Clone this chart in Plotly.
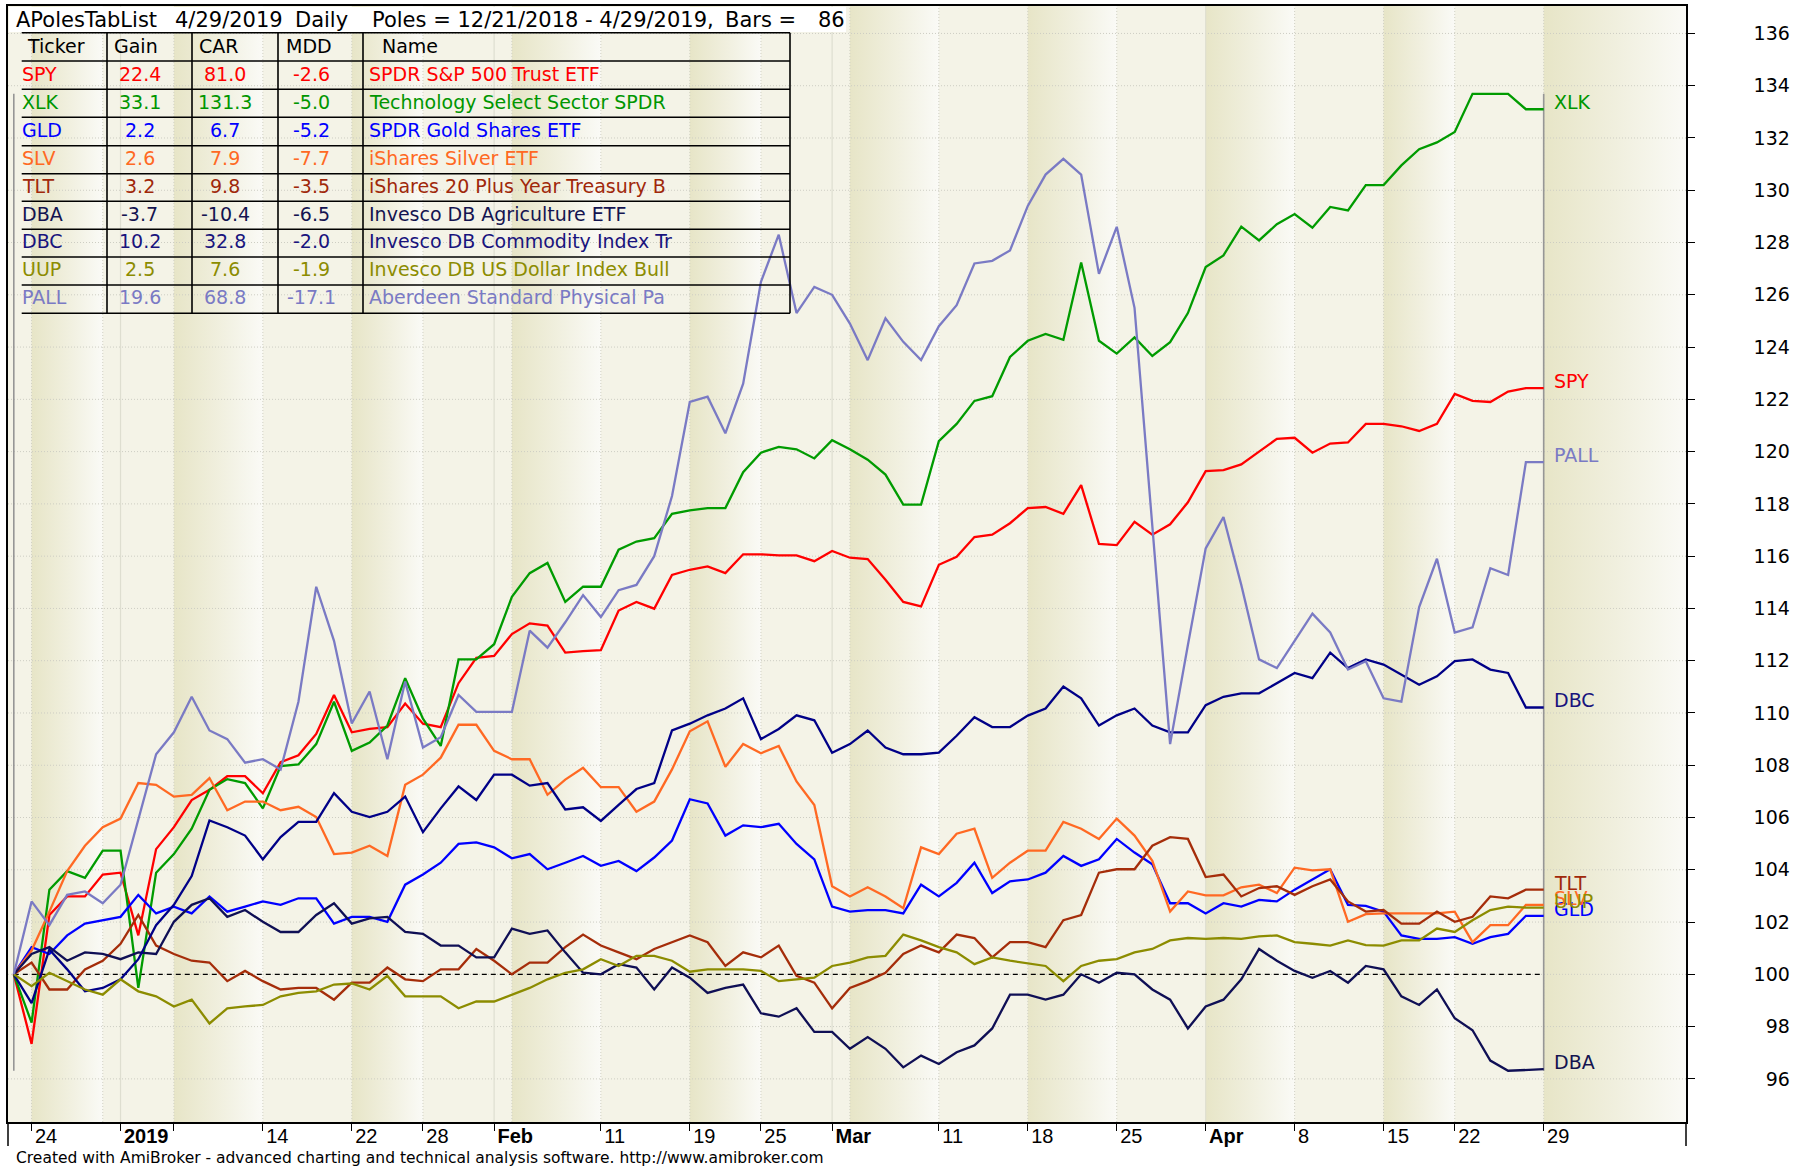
import datetime as dt
import plotly.graph_objects as go

# ---------------- data ----------------
dec_days = [21, 24, 26, 27, 28, 31]
jan_days = [2, 3, 4, 7, 8, 9, 10, 11, 14, 15, 16, 17, 18, 22, 23, 24, 25, 28, 29, 30, 31]
feb_days = [1, 4, 5, 6, 7, 8, 11, 12, 13, 14, 15, 19, 20, 21, 22, 25, 26, 27, 28]
mar_days = [1, 4, 5, 6, 7, 8, 11, 12, 13, 14, 15, 18, 19, 20, 21, 22, 25, 26, 27, 28, 29]
apr_days = [1, 2, 3, 4, 5, 8, 9, 10, 11, 12, 15, 16, 17, 18, 22, 23, 24, 25, 26, 29]
dates = ([dt.date(2018, 12, d) for d in dec_days] + [dt.date(2019, 1, d) for d in jan_days]
         + [dt.date(2019, 2, d) for d in feb_days] + [dt.date(2019, 3, d) for d in mar_days]
         + [dt.date(2019, 4, d) for d in apr_days])

tickers = ["SPY", "XLK", "GLD", "SLV", "TLT", "DBA", "DBC", "UUP", "PALL"]
gain = ["22.4", "33.1", "2.2", "2.6", "3.2", "-3.7", "10.2", "2.5", "19.6"]
car = ["81.0", "131.3", "6.7", "7.9", "9.8", "-10.4", "32.8", "7.6", "68.8"]
mdd = ["-2.6", "-5.0", "-5.2", "-7.7", "-3.5", "-6.5", "-2.0", "-1.9", "-17.1"]
names = ["SPDR S&P 500 Trust ETF", "Technology Select Sector SPDR", "SPDR Gold Shares ETF",
         "iShares Silver ETF", "iShares 20 Plus Year Treasury B", "Invesco DB Agriculture ETF",
         "Invesco DB Commodity Index Tr", "Invesco DB US Dollar Index Bull",
         "Aberdeen Standard Physical Pa"]

spy = [100, 97.34, 102.27, 102.98, 102.98, 103.82, 103.89, 101.49, 104.79, 105.63,
       106.67, 107.06, 107.58, 107.58, 106.93, 108.12, 108.38, 109.20, 110.69, 109.26,
       109.39, 109.46, 110.36, 109.59, 109.46, 111.14, 112.11, 112.18, 113.02, 113.43,
       113.34, 112.31, 112.37, 112.40, 113.92, 114.25, 113.99, 115.28, 115.48, 115.61,
       115.35, 116.07, 116.07, 116.03, 116.03, 115.81, 116.20, 115.94, 115.89, 115.10,
       114.25, 114.08, 115.67, 115.98, 116.73, 116.82, 117.26, 117.84, 117.88, 117.62,
       118.72, 116.47, 116.42, 117.31, 116.82, 117.22, 118.06, 119.25, 119.29, 119.51,
       120.00, 120.49, 120.53, 119.96, 120.31, 120.35, 121.06, 121.06, 120.97, 120.79,
       121.06, 122.21, 121.94, 121.90, 122.30, 122.43, 122.43]
xlk = [100, 98.15, 103.24, 103.95, 103.69, 104.73, 104.73, 99.48, 103.89, 104.60,
       105.57, 107.06, 107.47, 107.32, 106.35, 107.97, 108.03, 108.81, 110.43, 108.55,
       108.87, 109.52, 111.33, 109.78, 108.74, 112.05, 112.05, 112.63, 114.44, 115.35,
       115.74, 114.25, 114.83, 114.83, 116.25, 116.56, 116.69, 117.62, 117.75, 117.84,
       117.84, 119.21, 119.96, 120.18, 120.09, 119.74, 120.44, 120.09, 119.69, 119.12,
       117.97, 117.97, 120.40, 121.06, 121.94, 122.12, 123.62, 124.24, 124.50, 124.28,
       127.24, 124.24, 123.75, 124.37, 123.66, 124.19, 125.30, 127.06, 127.51, 128.61,
       128.08, 128.70, 129.09, 128.57, 129.36, 129.23, 130.20, 130.20, 130.95, 131.57,
       131.83, 132.23, 133.69, 133.69, 133.69, 133.10, 133.10]
gld = [100, 101.04, 100.78, 101.49, 101.94, 102.07, 102.20, 103.04, 102.33, 102.59,
       102.33, 102.98, 102.40, 102.59, 102.79, 102.66, 102.91, 102.91, 101.94, 102.20,
       102.20, 102.01, 103.43, 103.82, 104.27, 104.99, 105.05, 104.86, 104.44, 104.60,
       104.02, 104.27, 104.53, 104.15, 104.34, 103.95, 104.47, 105.12, 106.70, 106.54,
       105.31, 105.70, 105.63, 105.76, 104.99, 104.40, 102.59, 102.40, 102.46, 102.46,
       102.33, 103.43, 102.98, 103.50, 104.27, 103.11, 103.56, 103.63, 103.89, 104.53,
       104.15, 104.40, 105.18, 104.66, 104.21, 102.72, 102.72, 102.33, 102.72, 102.59,
       102.85, 102.79, 103.24, 103.63, 104.02, 102.66, 102.62, 102.40, 101.49, 101.36,
       101.36, 101.42, 101.17, 101.42, 101.55, 102.24, 102.24]
slv = [100, 100.91, 102.40, 103.95, 104.92, 105.63, 105.96, 107.32, 107.25, 106.80,
       106.87, 107.51, 106.28, 106.61, 106.61, 106.28, 106.41, 106.02, 104.60, 104.66,
       104.92, 104.53, 107.25, 107.64, 108.29, 109.55, 109.55, 108.55, 108.23, 108.23,
       106.87, 107.45, 107.90, 107.16, 107.16, 106.22, 106.61, 107.84, 109.30, 109.68,
       107.94, 108.81, 108.46, 108.74, 107.38, 106.48, 103.37, 102.98, 103.33, 102.98,
       102.53, 104.86, 104.60, 105.38, 105.57, 103.69, 104.27, 104.73, 104.73, 105.83,
       105.57, 105.18, 105.96, 105.31, 104.34, 102.40, 103.17, 103.02, 103.02, 103.33,
       103.43, 103.11, 104.08, 103.98, 104.02, 102.01, 102.30, 102.33, 102.33, 102.33,
       102.33, 102.40, 101.23, 101.88, 101.88, 102.66, 102.66]
tlt = [100, 100.45, 99.42, 99.42, 100.19, 100.52, 101.17, 102.27, 101.10, 100.78,
       100.52, 100.45, 99.74, 100.13, 99.74, 99.42, 99.48, 99.48, 99.03, 99.68,
       99.68, 100.26, 99.81, 99.74, 100.19, 100.19, 100.97, 100.52, 100.00, 100.45,
       100.45, 101.04, 101.52, 101.10, 100.84, 100.58, 100.97, 101.23, 101.49, 101.23,
       100.32, 100.84, 100.65, 101.10, 99.94, 99.68, 98.70, 99.48, 99.74, 100.06,
       100.78, 101.10, 100.84, 101.52, 101.39, 100.65, 101.23, 101.23, 101.04, 102.07,
       102.27, 103.89, 104.02, 104.02, 104.92, 105.25, 105.18, 103.72, 103.82, 102.98,
       103.30, 103.37, 103.04, 103.37, 103.63, 102.79, 102.40, 102.46, 101.94, 101.94,
       102.40, 102.01, 102.20, 102.98, 102.91, 103.24, 103.24]
dba = [100, 100.78, 101.04, 100.52, 100.84, 100.78, 100.58, 100.84, 100.78, 102.01,
       102.66, 102.91, 102.20, 102.46, 102.01, 101.62, 101.62, 102.27, 102.72, 101.94,
       102.14, 102.20, 101.62, 101.55, 101.10, 101.10, 100.65, 100.65, 101.75, 101.55,
       101.68, 100.84, 100.06, 100.00, 100.39, 100.26, 99.42, 100.26, 99.87, 99.29,
       99.48, 99.61, 98.51, 98.38, 98.70, 97.80, 97.80, 97.15, 97.60, 97.15,
       96.44, 96.89, 96.57, 97.02, 97.28, 97.93, 99.22, 99.22, 99.03, 99.22,
       100.00, 99.68, 100.06, 100.00, 99.42, 99.03, 97.93, 98.77, 99.03, 99.81,
       100.97, 100.52, 100.13, 99.87, 100.13, 99.68, 100.32, 100.19, 99.16, 98.83,
       99.42, 98.32, 97.86, 96.70, 96.31, 96.33, 96.37]
dbc = [100, 98.90, 100.95, 100.19, 99.35, 99.48, 99.81, 100.58, 101.88, 102.66,
       103.76, 105.89, 105.63, 105.31, 104.40, 105.25, 105.83, 105.83, 106.93, 106.22,
       106.02, 106.22, 106.80, 105.44, 106.35, 107.19, 106.67, 107.64, 107.64, 107.22,
       107.32, 106.31, 106.39, 105.87, 106.48, 107.09, 107.32, 109.33, 109.59, 109.91,
       110.17, 110.56, 109.00, 109.39, 109.91, 109.72, 108.48, 108.81, 109.33, 108.68,
       108.42, 108.42, 108.48, 109.13, 109.84, 109.46, 109.46, 109.90, 110.17, 111.01,
       110.56, 109.52, 109.91, 110.17, 109.52, 109.26, 109.26, 110.30, 110.62, 110.75,
       110.75, 111.14, 111.53, 111.33, 112.31, 111.72, 112.05, 111.85, 111.46, 111.08,
       111.40, 111.98, 112.05, 111.66, 111.53, 110.21, 110.21]
uup = [100, 99.55, 100.06, 99.74, 99.42, 99.22, 99.81, 99.35, 99.16, 98.77,
       99.03, 98.12, 98.70, 98.77, 98.83, 99.16, 99.29, 99.35, 99.61, 99.65,
       99.42, 99.94, 99.16, 99.16, 99.16, 98.70, 98.96, 98.96, 99.22, 99.48,
       99.81, 100.06, 100.19, 100.58, 100.32, 100.71, 100.71, 100.52, 100.10, 100.19,
       100.19, 100.19, 100.13, 99.74, 99.81, 99.87, 100.32, 100.45, 100.65, 100.71,
       101.52, 101.30, 101.04, 100.84, 100.39, 100.65, 100.52, 100.42, 100.32, 99.74,
       100.32, 100.52, 100.58, 100.84, 100.97, 101.30, 101.39, 101.36, 101.39, 101.36,
       101.45, 101.49, 101.23, 101.17, 101.10, 101.30, 101.12, 101.10, 101.30, 101.30,
       101.75, 101.62, 102.07, 102.46, 102.59, 102.55, 102.55]
pall = [100, 102.79, 101.88, 103.04, 103.17, 102.72, 103.43, 105.89, 108.42, 109.26,
        110.62, 109.33, 109.00, 108.10, 108.23, 107.84, 110.43, 114.83, 112.76, 109.60,
        110.82, 108.23, 111.20, 108.68, 109.07, 110.69, 110.04, 110.04, 110.04, 113.15,
        112.50, 113.47, 114.51, 113.67, 114.70, 114.90, 116.00, 118.30, 121.90, 122.10,
        120.70, 122.60, 126.50, 128.30, 125.30, 126.30, 126.00, 124.90, 123.50, 125.10,
        124.20, 123.50, 124.80, 125.60, 127.20, 127.30, 127.70, 129.40, 130.60, 131.20,
        130.60, 126.80, 128.60, 125.50, 117.00, 108.81, 112.60, 116.30, 117.50, 114.90,
        112.05, 111.72, 112.76, 113.80, 113.08, 111.66, 111.98, 110.56, 110.43, 114.05,
        115.90, 113.08, 113.28, 115.54, 115.28, 119.60, 119.60]

x_tick_idx = [1, 6, 9, 14, 19, 23, 27, 33, 38, 42, 46, 52, 57, 62, 67, 72, 77, 81, 86]
x_tick_text = ["24", "<b>2019</b>", "", "14", "22", "28", "<b>Feb</b>", "11", "19", "25",
               "<b>Mar</b>", "11", "18", "25", "<b>Apr</b>", "8", "15", "22", "29"]
y_tick_vals = list(range(96, 137, 2))

title_parts = ["APolesTabList", "4/29/2019", "Daily", "Poles = 12/21/2018 - 4/29/2019,", "Bars =", "86"]
footer_text = ("Created with AmiBroker - advanced charting and technical analysis software. "
               "http://www.amibroker.com")

# ---------------- style ----------------
series = [spy, xlk, gld, slv, tlt, dba, dbc, uup, pall]
line_colors = ["#ff0000", "rgb(0,155,0)", "#0000ff", "rgb(255,105,35)", "rgb(165,45,10)",
               "rgb(15,15,85)", "rgb(0,0,135)", "rgb(140,140,0)", "rgb(122,122,196)"]
text_colors = ["#ff0000", "rgb(0,150,0)", "#0000ff", "rgb(255,105,35)", "rgb(160,40,10)",
               "rgb(20,20,80)", "rgb(25,20,125)", "rgb(140,140,0)", "rgb(122,122,196)"]
FONT = "DejaVu Sans"
W, H = 1807, 1168
L, R, T, B = 8, 1686, 6, 1122
XMIN, XMAX = -0.326, 94.0
YMIN, YMAX = 94.35, 137.05


def px(x):
    return (x - L) / (R - L)


def py(y):
    return 1 - (y - T) / (B - T)


xs = list(range(len(dates)))
week_starts = [i for i in range(1, len(dates)) if dates[i].isocalendar()[1] != dates[i - 1].isocalendar()[1]]
month_starts = [i for i in range(1, len(dates)) if dates[i].month != dates[i - 1].month]
dark_weeks = week_starts[0::2]

fig = go.Figure()

# alternating weekly shading with gradient
for ws in dark_weeks:
    k = week_starts.index(ws)
    we = week_starts[k + 1] if k + 1 < len(week_starts) else XMAX
    fig.add_trace(go.Scatter(
        x=[ws, we, we, ws, ws], y=[YMIN, YMIN, YMAX, YMAX, YMIN], mode="lines",
        line=dict(width=0), fill="toself",
        fillgradient=dict(type="horizontal",
                          colorscale=[[0, "rgb(231,229,199)"], [0.55, "rgb(241,240,224)"],
                                      [1, "rgb(250,250,246)"]]),
        hoverinfo="skip", showlegend=False))

# horizontal dotted grid
gx, gy = [], []
for v in y_tick_vals:
    gx += [XMIN, XMAX, None]
    gy += [v, v, None]
fig.add_trace(go.Scatter(x=gx, y=gy, mode="lines", line=dict(color="rgb(205,205,195)", width=1, dash="1px,2px"),
                         hoverinfo="skip", showlegend=False))
# vertical week grid (dotted) and month lines (solid)
vx, vy = [], []
for i in week_starts:
    if i not in month_starts:
        vx += [i, i, None]
        vy += [YMIN, YMAX, None]
fig.add_trace(go.Scatter(x=vx, y=vy, mode="lines", line=dict(color="rgb(208,208,196)", width=1, dash="1px,2px"),
                         hoverinfo="skip", showlegend=False))
mx, my = [], []
for i in month_starts:
    mx += [i, i, None]
    my += [YMIN, YMAX, None]
fig.add_trace(go.Scatter(x=mx, y=my, mode="lines", line=dict(color="rgb(222,222,208)", width=1.2),
                         hoverinfo="skip", showlegend=False))

# pole lines
all_vals = [v for s in series for v in s]
lo, hi = min(all_vals), max(all_vals)
fig.add_trace(go.Scatter(x=[0, 0, None, xs[-1], xs[-1]], y=[lo, hi, None, lo, hi], mode="lines",
                         line=dict(color="rgb(150,150,150)", width=1.6), hoverinfo="skip", showlegend=False))
# 100 reference
fig.add_trace(go.Scatter(x=[0, xs[-1]], y=[100, 100], mode="lines",
                         line=dict(color="black", width=1.4, dash="5px,4px"), hoverinfo="skip", showlegend=False))

for s, c, name in zip(series, line_colors, tickers):
    fig.add_trace(go.Scatter(x=xs, y=s, mode="lines", line=dict(color=c, width=2.3),
                             name=name, showlegend=False))

shapes = []
ann = []
# white title strip
shapes.append(dict(type="rect", xref="paper", yref="paper", x0=px(9), x1=px(846), y0=py(32), y1=py(7),
                   fillcolor="white", line=dict(width=0), layer="above"))
title_x = [14, 173, 293, 370, 723, 816]
for t, x in zip(title_parts, title_x):
    ann.append(dict(text=t, xref="paper", yref="paper", x=px(x), y=py(20), xanchor="left", yanchor="middle",
                    showarrow=False, font=dict(family=FONT, size=21, color="black")))

# table grid
row_lines = [32.7, 61, 89.3, 117.3, 145.7, 173.7, 201.3, 229.3, 257, 285, 313.3]
for y in row_lines:
    shapes.append(dict(type="line", xref="paper", yref="paper", x0=px(21.7), x1=px(790), y0=py(y), y1=py(y),
                       line=dict(color="black", width=1.6), layer="above"))
for x in [107, 192, 278, 363, 790]:
    shapes.append(dict(type="line", xref="paper", yref="paper", x0=px(x), x1=px(x), y0=py(32.7), y1=py(313.3),
                       line=dict(color="black", width=1.6), layer="above"))

hdr_y = 46
for t, x in zip(["Ticker", "Gain", "CAR", "MDD", "Name"], [25, 112, 197, 283.5, 380]):
    ann.append(dict(text=t, xref="paper", yref="paper", x=px(x), y=py(hdr_y), xanchor="left", yanchor="middle",
                    showarrow=False, font=dict(family=FONT, size=19, color="black")))
for k in range(len(tickers)):
    yc = py(74 + 27.9 * k)
    f = dict(family=FONT, size=19, color=text_colors[k])
    ann.append(dict(text=tickers[k], xref="paper", yref="paper", x=px(19.6), y=yc, xanchor="left",
                    yanchor="middle", showarrow=False, font=f))
    ann.append(dict(text=gain[k], xref="paper", yref="paper", x=px(139.5), y=yc, xanchor="center",
                    yanchor="middle", showarrow=False, font=f))
    ann.append(dict(text=car[k], xref="paper", yref="paper", x=px(225), y=yc, xanchor="center",
                    yanchor="middle", showarrow=False, font=f))
    ann.append(dict(text=mdd[k], xref="paper", yref="paper", x=px(311), y=yc, xanchor="center",
                    yanchor="middle", showarrow=False, font=f))
    ann.append(dict(text=names[k], xref="paper", yref="paper", x=px(366.5), y=yc, xanchor="left",
                    yanchor="middle", showarrow=False, font=f))

# series labels at the right pole
for s, c, name in zip(series, text_colors, tickers):
    ann.append(dict(text=name, x=xs[-1], y=s[-1], xref="x", yref="y", xanchor="left", yanchor="middle",
                    xshift=8, yshift=7, showarrow=False, font=dict(family=FONT, size=19, color=c)))

# footer
ann.append(dict(text=footer_text, xref="paper", yref="paper", x=px(14), y=py(1158), xanchor="left",
                yanchor="middle", showarrow=False, font=dict(family=FONT, size=15.5, color="black")))

# date pane side borders
for x in [L, R]:
    shapes.append(dict(type="line", xref="paper", yref="paper", x0=px(x), x1=px(x), y0=py(1146), y1=py(B),
                       line=dict(color="black", width=1.5)))

fig.update_layout(
    width=W, height=H,
    margin=dict(l=L, r=W - R, t=T, b=H - B, autoexpand=False),
    paper_bgcolor="white", plot_bgcolor="rgb(244,243,231)",
    showlegend=False, shapes=shapes, annotations=ann,
    xaxis=dict(range=[XMIN, XMAX], showgrid=False, zeroline=False, tickmode="array",
               tickvals=x_tick_idx, ticktext=x_tick_text, ticks="outside", ticklen=7, tickwidth=1.3,
               tickcolor="black", ticklabelposition="outside right", ticklabelstandoff=-5, ticklabelshift=2,
               tickfont=dict(family="Liberation Sans", size=20, color="black"),
               showline=True, linecolor="black", linewidth=1.5, mirror=True),
    yaxis=dict(range=[YMIN, YMAX], side="right", showgrid=False, zeroline=False, tickmode="array",
               tickvals=y_tick_vals,
               ticktext=[str(v) if v >= 100 else "\u2007" + str(v) for v in y_tick_vals],
               ticks="outside", ticklen=7, tickwidth=1.3, tickcolor="black", ticklabelstandoff=55,
               tickfont=dict(family=FONT, size=19, color="black"),
               showline=True, linecolor="black", linewidth=1.5, mirror=True),
)

fig.write_html("out.html", config={"displayModeBar": False},
               post_script="document.body.style.margin='0';document.body.style.overflow='hidden';")
